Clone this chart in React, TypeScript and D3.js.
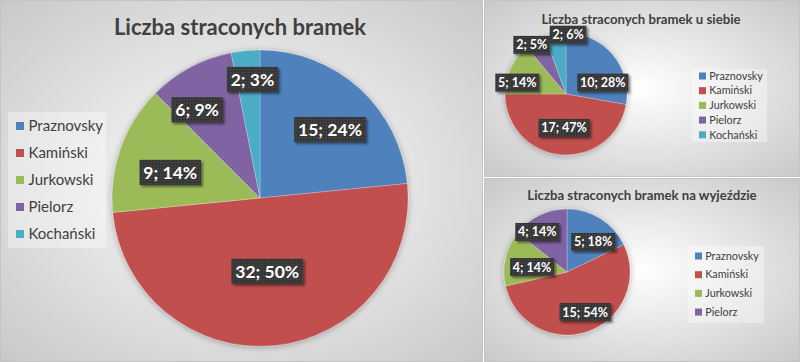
import React, { useEffect, useRef } from 'react';
import * as d3 from 'd3';

// Goals conceded per goalkeeper
const players = ['Praznovsky', 'Kamiński', 'Jurkowski', 'Pielorz', 'Kochański'];
const totalGoals = [15, 32, 9, 6, 2];
const totalPct = [24, 50, 14, 9, 3];
const homeGoals = [10, 17, 5, 2, 2];
const homePct = [28, 47, 14, 5, 6];
const awayPlayers = ['Praznovsky', 'Kamiński', 'Jurkowski', 'Pielorz'];
const awayGoals = [5, 15, 4, 4];
const awayPct = [18, 54, 14, 14];

const colors = ['#4f81bd', '#c0504d', '#9bbb59', '#8064a2', '#4bacc6'];

const FONT = 'Lato, "Open Sans", sans-serif';

interface PanelSpec {
  title: string;
  names: string[];
  values: number[];
  pct: number[];
  box: [number, number, number, number];
  titleX: number;
  titleY: number;
  titleSize: number;
  cx: number;
  cy: number;
  r: number;
  labelSize: number;
  // per slice: [angle shift in degrees, radius fraction]
  labelPlace: [number, number][];
  legend: { x: number; y: number; w: number; h: number; rowY: number; step: number; size: number; sw: number };
}

const panels: PanelSpec[] = [
  {
    title: 'Liczba straconych bramek',
    names: players, values: totalGoals, pct: totalPct,
    box: [0, 0, 483, 362],
    titleX: 240, titleY: 35, titleSize: 22,
    cx: 260, cy: 198, r: 148,
    labelSize: 17.5,
    labelPlace: [[3.6, 0.66], [0, 0.5], [-4, 0.63], [-7.5, 0.73], [2, 0.8]],
    legend: { x: 8, y: 112, w: 98, h: 136, rowY: 126, step: 27, size: 15, sw: 8 },
  },
  {
    title: 'Liczba straconych bramek u siebie',
    names: players, values: homeGoals, pct: homePct,
    box: [484, 0, 316, 177],
    titleX: 641, titleY: 24, titleSize: 13.2,
    cx: 566, cy: 94, r: 61,
    labelSize: 12.5,
    labelPlace: [[23, 0.63], [-1.6, 0.56], [-12, 0.82], [-5, 0.98], [12, 0.97]],
    legend: { x: 692, y: 69, w: 75, h: 73, rowY: 76, step: 14.7, size: 10.8, sw: 7 },
  },
  {
    title: 'Liczba straconych bramek na wyjeździe',
    names: awayPlayers, values: awayGoals, pct: awayPct,
    box: [484, 178, 316, 184],
    titleX: 642, titleY: 200, titleSize: 13.2,
    cx: 567, cy: 272, r: 63,
    labelSize: 12.5,
    labelPlace: [[9, 0.63], [-5, 0.7], [-5, 0.56], [-11, 0.79]],
    legend: { x: 688, y: 246, w: 76, h: 77, rowY: 256, step: 18.7, size: 10.8, sw: 7 },
  },
];

export default function App() {
  const svgRef = useRef<SVGSVGElement | null>(null);

  useEffect(() => {
    if (!svgRef.current) return;
    const svg = d3.select(svgRef.current);
    svg.selectAll('*').remove();

    const defs = svg.append('defs');
    const bg = defs.append('radialGradient').attr('id', 'panel-bg').attr('cx', '50%').attr('cy', '50%').attr('r', '70%');
    bg.append('stop').attr('offset', '0%').attr('stop-color', '#ffffff');
    bg.append('stop').attr('offset', '100%').attr('stop-color', '#c9c9c9');

    const pat = defs.append('pattern').attr('id', 'label-tex').attr('width', 3).attr('height', 3).attr('patternUnits', 'userSpaceOnUse');
    pat.append('rect').attr('width', 3).attr('height', 3).attr('fill', '#3a3a3a');
    pat.append('rect').attr('width', 1).attr('height', 1).attr('fill', '#262626');
    pat.append('rect').attr('x', 2).attr('y', 1).attr('width', 1).attr('height', 1).attr('fill', '#4a4a4a');

    const shadow = defs.append('filter').attr('id', 'lbl-shadow').attr('x', '-20%').attr('y', '-30%').attr('width', '150%').attr('height', '170%');
    shadow.append('feDropShadow').attr('dx', 2).attr('dy', 2).attr('stdDeviation', 1.2).attr('flood-color', '#000').attr('flood-opacity', 0.45);

    const pieShadow = defs.append('filter').attr('id', 'pie-shadow').attr('x', '-20%').attr('y', '-20%').attr('width', '140%').attr('height', '140%');
    pieShadow.append('feDropShadow').attr('dx', 0).attr('dy', 1).attr('stdDeviation', 3).attr('flood-color', '#000').attr('flood-opacity', 0.3);

    panels.forEach((p) => {
      const [bx, by, bw, bh] = p.box;
      const g = svg.append('g');

      g.append('rect')
        .attr('x', bx + 0.5).attr('y', by + 0.5)
        .attr('width', bw - 1).attr('height', bh - 1)
        .attr('fill', 'url(#panel-bg)')
        .attr('stroke', '#c4c4c4').attr('stroke-width', 1);

      g.append('text')
        .attr('x', p.titleX).attr('y', p.titleY)
        .attr('text-anchor', 'middle')
        .attr('font-family', FONT).attr('font-weight', 700)
        .attr('font-size', p.titleSize).attr('fill', '#404040')
        .text(p.title);

      const pie = d3.pie<number>().sort(null).value((d) => d);
      const arcs = pie(p.values);
      const arc = d3.arc<d3.PieArcDatum<number>>().innerRadius(0).outerRadius(p.r);

      const pieG = g.append('g').attr('transform', `translate(${p.cx},${p.cy})`);
      pieG.append('g').attr('filter', 'url(#pie-shadow)')
        .selectAll('path').data(arcs).join('path')
        .attr('d', arc)
        .attr('fill', (_, i) => colors[i])
        .attr('stroke', '#ffffff').attr('stroke-width', 0.4).attr('stroke-opacity', 0.6);

      // data labels: "value; pct%" on dark boxes
      arcs.forEach((a, i) => {
        const [shift, frac] = p.labelPlace[i];
        const ang = (a.startAngle + a.endAngle) / 2 + (shift * Math.PI) / 180;
        const lx = Math.sin(ang) * p.r * frac;
        const ly = -Math.cos(ang) * p.r * frac;
        const lg = pieG.append('g').attr('transform', `translate(${lx},${ly})`);
        const rect = lg.append('rect').attr('fill', 'url(#label-tex)').attr('filter', 'url(#lbl-shadow)');
        const t = lg.append('text')
          .attr('text-anchor', 'middle').attr('dy', '0.35em')
          .attr('font-family', FONT).attr('font-weight', 700)
          .attr('font-size', p.labelSize).attr('fill', '#ffffff')
          .text(`${p.values[i]}; ${p.pct[i]}%`);
        const bb = (t.node() as SVGTextElement).getBBox();
        const padX = p.labelSize * 0.22;
        const padY = p.labelSize * 0.12;
        rect.attr('x', bb.x - padX).attr('y', bb.y - padY)
          .attr('width', bb.width + padX * 2).attr('height', bb.height + padY * 2);
      });

      const L = p.legend;
      g.append('rect')
        .attr('x', L.x).attr('y', L.y).attr('width', L.w).attr('height', L.h)
        .attr('fill', '#ffffff').attr('fill-opacity', 0.35);
      p.names.forEach((n, i) => {
        const yy = L.rowY + i * L.step;
        g.append('rect')
          .attr('x', L.x + L.sw).attr('y', yy - L.sw / 2)
          .attr('width', L.sw).attr('height', L.sw)
          .attr('fill', colors[i]);
        g.append('text')
          .attr('x', L.x + L.sw * 2 + L.size * 0.3).attr('y', yy).attr('dy', '0.35em')
          .attr('font-family', FONT).attr('font-size', L.size).attr('fill', '#404040')
          .text(n);
      });
    });
  }, []);

  return (
    <svg ref={svgRef} width={800} height={362} style={{ position: 'absolute', left: 0, top: 0 }} />
  );
}
